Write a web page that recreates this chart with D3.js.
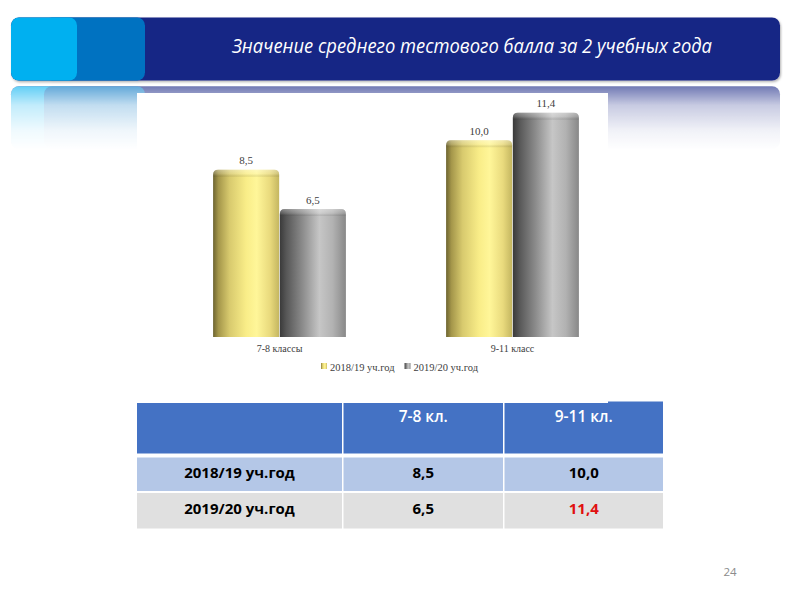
<!DOCTYPE html>
<html>
<head>
<meta charset="utf-8">
<script src="https://cdn.jsdelivr.net/npm/d3@7/dist/d3.min.js"></script>
<style>
  html, body { margin: 0; padding: 0; background: #fff; }
  svg { display: block; }
</style>
</head>
<body>
<script>
// ---- data ----
const categories = ["7-8 классы", "9-11 класс"];
const seriesNames = ["2018/19 уч.год", "2019/20 уч.год"];
const values2018 = [8.5, 10.0];
const values2019 = [6.5, 11.4];
const tableHeaders = ["7-8 кл.", "9-11 кл."];
const title = "Значение среднего тестового балла за 2 учебных года";
const pageNumber = "24";

const series = [values2018, values2019];
const fmt = v => d3.format(".1f")(v).replace(".", ",");

const W = 800, H = 600;
const svg = d3.select("body").append("svg").attr("width", W).attr("height", H);
svg.append("rect").attr("width", W).attr("height", H).attr("fill", "#fff");
const defs = svg.append("defs");

// ---- title banner ----
function drawBanner(g, reflected) {
  const navy = () => g.append("rect").attr("x", 11).attr("y", 17.5).attr("width", 769).attr("height", 63).attr("rx", 8).attr("fill", "#172585");
  const mid = () => g.append("rect").attr("x", 44).attr("y", 17.5).attr("width", 101).attr("height", 63).attr("rx", 8).attr("fill", "#0072c1");
  const cyan = () => g.append("rect").attr("x", 11).attr("y", 17.5).attr("width", 66).attr("height", 63).attr("rx", 8).attr("fill", "#00b0f0");
  navy();
  if (reflected) { cyan(); mid(); } else { mid(); cyan(); }
}

// mirrored banner that fades out below
const fade = defs.append("linearGradient").attr("id", "fade")
  .attr("gradientUnits", "userSpaceOnUse").attr("x1", 0).attr("y1", 86).attr("x2", 0).attr("y2", 150);
fade.append("stop").attr("offset", 0).attr("stop-color", "#fff").attr("stop-opacity", 0.62);
fade.append("stop").attr("offset", 0.3).attr("stop-color", "#fff").attr("stop-opacity", 0.24);
fade.append("stop").attr("offset", 0.7).attr("stop-color", "#fff").attr("stop-opacity", 0.06);
fade.append("stop").attr("offset", 1).attr("stop-color", "#fff").attr("stop-opacity", 0);
const mask = defs.append("mask").attr("id", "reflMask").attr("maskUnits", "userSpaceOnUse")
  .attr("x", 0).attr("y", 0).attr("width", W).attr("height", H);
mask.append("rect").attr("x", 0).attr("y", 86).attr("width", W).attr("height", 66).attr("fill", "url(#fade)");

const refl = svg.append("g").attr("mask", "url(#reflMask)")
  .append("g").attr("transform", "translate(0,166.7) scale(1,-1)");
drawBanner(refl, true);

const shadow = defs.append("filter").attr("id", "shadow").attr("x", "-5%").attr("y", "-20%").attr("width", "110%").attr("height", "150%");
shadow.append("feDropShadow").attr("dx", 1).attr("dy", 1.5).attr("stdDeviation", 1.2).attr("flood-color", "#000").attr("flood-opacity", 0.3);

const banner = svg.append("g").attr("filter", "url(#shadow)");
drawBanner(banner, false);

svg.append("text")
  .attr("x", 472).attr("y", 52.5)
  .attr("text-anchor", "middle")
  .attr("fill", "#fff")
  .attr("font-family", "'Open Sans', 'Noto Sans', sans-serif")
  .attr("font-style", "italic")
  .attr("font-size", 19.5)
  .attr("textLength", 480)
  .attr("lengthAdjust", "spacingAndGlyphs")
  .text(title);

// ---- chart panel ----
svg.append("rect").attr("x", 137).attr("y", 93).attr("width", 471).attr("height", 286).attr("fill", "#fff");

// cylinder-like gradients for the two series
const gradStops = [
  [["0%", "#6d6430"], ["8%", "#a4964a"], ["25%", "#d8ca6e"], ["50%", "#f9ed88"], ["66%", "#fff699"], ["86%", "#e9da7d"], ["100%", "#c4b660"]],
  [["0%", "#3a3a3a"], ["10%", "#575757"], ["35%", "#8d8d8d"], ["60%", "#c6c6c6"], ["80%", "#b2b2b2"], ["100%", "#888888"]]
];
gradStops.forEach((stops, i) => {
  const lg = defs.append("linearGradient").attr("id", "bar" + i).attr("x1", 0).attr("x2", 1).attr("y1", 0).attr("y2", 0);
  stops.forEach(([o, c]) => lg.append("stop").attr("offset", o).attr("stop-color", c));
});
const capGrad = defs.append("linearGradient").attr("id", "cap").attr("x1", 0).attr("x2", 0).attr("y1", 0).attr("y2", 1);
capGrad.append("stop").attr("offset", 0).attr("stop-color", "#fff").attr("stop-opacity", 0.35);
capGrad.append("stop").attr("offset", 0.6).attr("stop-color", "#fff").attr("stop-opacity", 0.15);
capGrad.append("stop").attr("offset", 1).attr("stop-color", "#000").attr("stop-opacity", 0.08);

const x0 = d3.scaleBand().domain(categories).range([163, 629]).paddingInner(0.43).paddingOuter(0.215);
const x1 = d3.scaleBand().domain(d3.range(seriesNames.length)).range([0, x0.bandwidth()]).paddingInner(0.01);
const y = d3.scaleLinear().domain([0, 12]).range([337, 337 - 12 * 19.68]);

function barPath(x, yTop, w, yBase, r) {
  const p = d3.path();
  p.moveTo(x, yBase);
  p.lineTo(x, yTop + r);
  p.quadraticCurveTo(x, yTop, x + r, yTop);
  p.lineTo(x + w - r, yTop);
  p.quadraticCurveTo(x + w, yTop, x + w, yTop + r);
  p.lineTo(x + w, yBase);
  p.closePath();
  return p.toString();
}

const bars = [];
categories.forEach((c, ci) => {
  series.forEach((vals, si) => bars.push({ cat: c, si, v: vals[ci] }));
});

const chart = svg.append("g");
const bg = chart.selectAll("g.bar").data(bars).join("g").attr("class", "bar");
bg.append("path")
  .attr("d", d => barPath(x0(d.cat) + x1(d.si), y(d.v), x1.bandwidth(), y(0), 5))
  .attr("fill", d => `url(#bar${d.si})`);
bg.append("path")
  .attr("d", d => barPath(x0(d.cat) + x1(d.si), y(d.v), x1.bandwidth(), y(d.v) + 7, 5))
  .attr("fill", "url(#cap)");
bg.append("text")
  .attr("x", d => x0(d.cat) + x1(d.si) + x1.bandwidth() / 2)
  .attr("y", d => y(d.v) - 5.5)
  .attr("text-anchor", "middle")
  .attr("font-family", "'Liberation Serif', 'Times New Roman', serif")
  .attr("font-size", 11)
  .attr("fill", "#404040")
  .text(d => fmt(d.v));

// category axis labels
const xAxis = d3.axisBottom(x0).tickSize(0).tickPadding(8);
const ax = chart.append("g").attr("transform", `translate(0,${y(0)})`).call(xAxis);
ax.select(".domain").remove();
ax.selectAll("text")
  .attr("font-family", "'Liberation Serif', 'Times New Roman', serif")
  .attr("font-size", 10)
  .attr("fill", "#404040");

// legend
const legend = chart.append("g").attr("transform", "translate(321,367)");
let lx = 0;
seriesNames.forEach((name, i) => {
  const it = legend.append("g").attr("transform", `translate(${lx},0)`);
  it.append("rect").attr("x", 0).attr("y", -4).attr("width", 6).attr("height", 6).attr("fill", `url(#bar${i})`);
  const t = it.append("text").attr("x", 9).attr("y", 3.5)
    .attr("font-family", "'Liberation Serif', 'Times New Roman', serif")
    .attr("font-size", 10.5).attr("fill", "#404040").text(name);
  lx += 9 + t.node().getComputedTextLength() + 10;
});

// ---- table ----
const colX = [[137, 342], [343.5, 503], [504.5, 663]];
const rowY = [[403, 453.5], [457.5, 491], [493, 528.5]];
const rowFill = ["#4472c4", "#b4c7e7", "#e0e0e0"];
const table = svg.append("g");
// small raised tab at header's right end
table.append("rect").attr("x", 608).attr("y", 401.5).attr("width", 55).attr("height", 3).attr("fill", "#4472c4");

const cells = [];
rowY.forEach((ry, r) => colX.forEach((cx, c) => {
  let text = "", color = "#000", weight = "bold";
  if (r === 0) { text = c === 0 ? "" : tableHeaders[c - 1]; color = "#fff"; weight = 600; }
  else if (c === 0) text = seriesNames[r - 1];
  else {
    const v = series[r - 1][c - 1];
    text = fmt(v);
    if (r === 2 && c === 2) color = "#e01010";
  }
  cells.push({ r, c, x: cx[0], w: cx[1] - cx[0], y: ry[0], h: ry[1] - ry[0], text, color, weight });
}));

const cg = table.selectAll("g.cell").data(cells).join("g").attr("class", "cell");
cg.append("rect")
  .attr("x", d => d.x).attr("y", d => d.y).attr("width", d => d.w).attr("height", d => d.h)
  .attr("fill", d => rowFill[d.r]);
cg.append("text")
  .attr("x", d => d.x + d.w / 2)
  .attr("y", d => d.r === 0 ? 422 : d.r === 1 ? 478 : 513.5)
  .attr("text-anchor", "middle")
  .attr("font-family", "'Open Sans', 'Noto Sans', sans-serif")
  .attr("font-size", d => d.r === 0 ? 15.5 : 15)
  .attr("font-weight", d => d.weight)
  .attr("fill", d => d.color)
  .text(d => d.text);

// page number
svg.append("text").attr("x", 730).attr("y", 576).attr("text-anchor", "middle")
  .attr("font-family", "'Open Sans', 'Noto Sans', sans-serif").attr("font-size", 11.5)
  .attr("fill", "#8c8c8c").text(pageNumber);
</script>
</body>
</html>
